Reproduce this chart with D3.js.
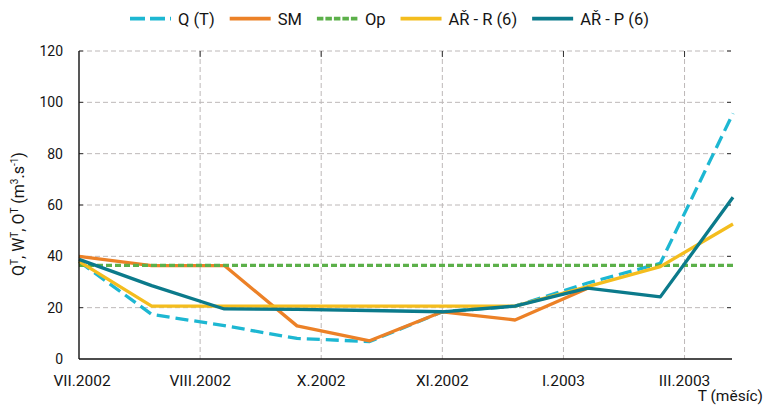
<!DOCTYPE html>
<html>
<head>
<meta charset="utf-8">
<script src="https://cdn.jsdelivr.net/npm/d3@7"></script>
<style>
  html, body { margin: 0; padding: 0; background: #fff; }
  svg { display: block; font-family: Roboto, "Open Sans", sans-serif; }
</style>
</head>
<body>
<svg id="chart" width="766" height="406"></svg>
<script>
// ---- data ----
const seriesNames = ["Q (T)", "SM", "Op", "AŘ - R (6)", "AŘ - P (6)"];
const tickLabels = ["VII.2002", "VIII.2002", "X.2002", "XI.2002", "I.2003", "III.2003"];
const tickPositions = [0, 1.667, 3.333, 5, 6.667, 8.333];
const yTicks = [0, 20, 40, 60, 80, 100, 120];
const qT  = [38, 17.4, 13, 8, 6.8, 18.4, 20.6, 29.6, 37.3, 95.7];
const sm  = [40, 36.4, 36.4, 12.9, 7.1, 18.4, 15.2, 27.6, null, null];
const op  = [36.5, 36.5, 36.5, 36.5, 36.5, 36.5, 36.5, 36.5, 36.5, 36.5];
const arR = [38, 20.6, 20.6, 20.6, 20.6, 20.6, 20.6, 28.2, 36, 52.6];
const arP = [38.8, 28.6, 19.5, 19.3, 18.9, 18.4, 20.6, 27.6, 24.2, 63];

// ---- styles ----
const colors = ["#1db7d2", "#ec8127", "#5cb04a", "#f4bd1e", "#0b7a8b"];
const dashes = ["13,6", null, "6,3", null, null];
const legendDashes = ["15,5", null, "6.5,2", null, null];
const allSeries = [qT, sm, op, arR, arP];
const textColor = "#141414";

const svg = d3.select("#chart");
const mLeft = 79, mRight = 733, mTop = 51, mBottom = 359;

const x = d3.scaleLinear().domain([0, qT.length - 1]).range([mLeft, mRight]);
const y = d3.scaleLinear().domain([0, 120]).range([mBottom, mTop]);

// grid
const grid = svg.append("g");
grid.selectAll("line.h").data(yTicks.filter(d => d > 0)).join("line")
  .attr("x1", mLeft).attr("x2", 731)
  .attr("y1", d => y(d)).attr("y2", d => y(d))
  .attr("stroke", "#bdb8b8").attr("stroke-width", 1).attr("stroke-dasharray", "5,3");
grid.selectAll("line.v").data(tickPositions.slice(1)).join("line")
  .attr("x1", d => x(d)).attr("x2", d => x(d))
  .attr("y1", mTop).attr("y2", mBottom)
  .attr("stroke", "#bdb8b8").attr("stroke-width", 1).attr("stroke-dasharray", "5,3");
const tk = svg.append("g");
tk.selectAll("line").data(tickPositions.slice(1)).join("line")
  .attr("x1", d => x(d)).attr("x2", d => x(d))
  .attr("y1", mTop).attr("y2", mTop + 6)
  .attr("stroke", "#333").attr("stroke-width", 1);
const rt = svg.append("g");
rt.selectAll("line").data(yTicks.filter(d => d > 0)).join("line")
  .attr("x1", 727).attr("x2", 731)
  .attr("y1", d => y(d)).attr("y2", d => y(d))
  .attr("stroke", "#333").attr("stroke-width", 1);
const lt = svg.append("g");
lt.selectAll("line").data(yTicks.filter(d => d > 0)).join("line")
  .attr("x1", mLeft).attr("x2", mLeft + 4)
  .attr("y1", d => y(d)).attr("y2", d => y(d))
  .attr("stroke", "#333").attr("stroke-width", 1);

// series
const line = d3.line().defined(d => d != null).x((d, i) => x(i)).y(d => y(d));
const plot = svg.append("g");
allSeries.forEach((s, k) => {
  plot.append("path").datum(s)
    .attr("d", line)
    .attr("fill", "none")
    .attr("stroke", colors[k])
    .attr("stroke-width", 3.3)
    .attr("stroke-linejoin", "round")
    .attr("stroke-dasharray", dashes[k]);
});

// axes lines
svg.append("line").attr("x1", mLeft).attr("x2", mLeft).attr("y1", mTop).attr("y2", mBottom)
  .attr("stroke", "#111").attr("stroke-width", 1.4);
svg.append("line").attr("x1", mLeft).attr("x2", 732).attr("y1", mBottom).attr("y2", mBottom)
  .attr("stroke", "#111").attr("stroke-width", 1.4);

// y tick labels
svg.append("g").selectAll("text").data(yTicks).join("text")
  .attr("x", 63).attr("y", d => y(d)).attr("dy", "0.36em")
  .attr("text-anchor", "end").attr("font-size", 14).attr("fill", textColor)
  .text(d => d);

// x tick labels
svg.append("g").selectAll("text").data(tickLabels).join("text")
  .attr("x", (d, i) => x(tickPositions[i]) + (i === 0 ? 3 : 0)).attr("y", 385.5)
  .attr("text-anchor", "middle").attr("font-size", 15.5).attr("fill", textColor)
  .text(d => d);

// x axis title
svg.append("text").attr("x", 763).attr("y", 401).attr("text-anchor", "end")
  .attr("font-size", 15.5).attr("fill", textColor).text("T (měsíc)");

// y axis title
const yt = svg.append("text").attr("transform", "translate(24,214) rotate(-90)")
  .attr("text-anchor", "middle").attr("font-size", 16).attr("fill", textColor);
const parts = [["Q", false], ["T", true], [", W", false], ["T", true], [", O", false], ["T", true],
               [" (m", false], ["3", true], [".s", false], ["-1", true], [")", false]];
let raised = false;
parts.forEach(([t, sup]) => {
  const ts = yt.append("tspan").text(t);
  if (sup && !raised) { ts.attr("font-size", 10).attr("dy", -6); raised = true; }
  else if (!sup && raised) { ts.attr("dy", 6); raised = false; }
});

// legend
const leg = svg.append("g");
const legendStart = 130, legendEnd = 649, sampleW = 41, textGap = 7, legY = 18.7;
const items = seriesNames.map((n, k) => {
  const g = leg.append("g");
  const t = g.append("text").attr("x", sampleW + textGap).attr("y", legY).attr("dy", "0.36em")
    .attr("font-size", 16.5).attr("fill", textColor).text(n);
  g.append("line").attr("x1", 0).attr("x2", sampleW).attr("y1", legY).attr("y2", legY)
    .attr("stroke", colors[k]).attr("stroke-width", 3.8)
    .attr("stroke-dasharray", legendDashes[k]);
  return { g, w: sampleW + textGap + t.node().getComputedTextLength() };
});
const totalW = d3.sum(items, d => d.w);
const gap = (legendEnd - legendStart - totalW) / (items.length - 1);
let cx = legendStart;
items.forEach(it => { it.g.attr("transform", `translate(${cx},0)`); cx += it.w + gap; });
</script>
</body>
</html>
